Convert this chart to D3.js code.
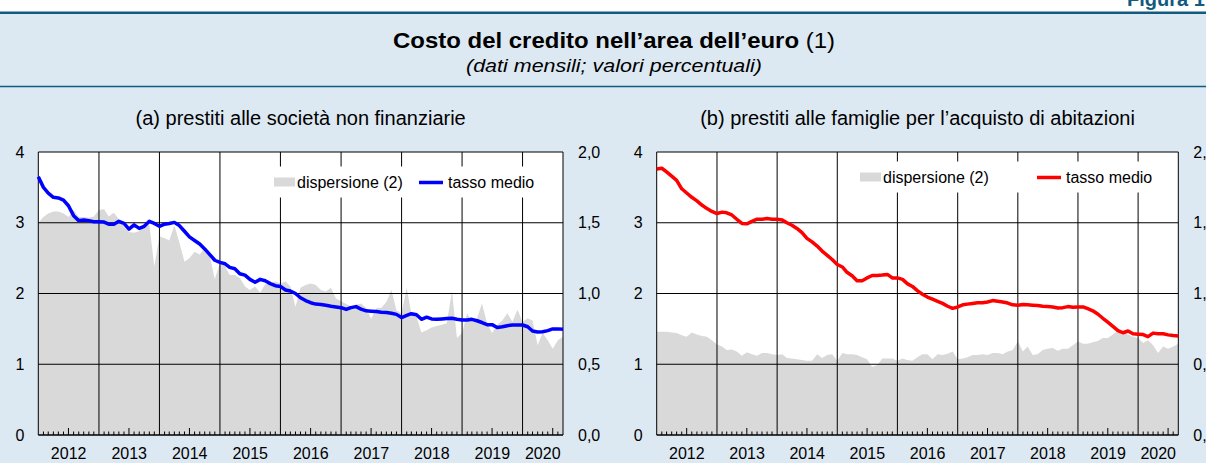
<!DOCTYPE html>
<html>
<head>
<meta charset="utf-8">
<script src="https://cdn.jsdelivr.net/npm/d3@7"></script>
<style>
  body { margin: 0; background: #fff; }
  svg { display: block; font-family: "Liberation Sans", Arial, Helvetica, sans-serif; }
</style>
</head>
<body>
<div class="box"></div>
<script>
// monthly observations, Jan 2012 - Sep 2020
var startMonth = new Date(2012, 0, 1), endMonth = new Date(2020, 8, 1);
var months = d3.timeMonth.range(startMonth, d3.timeMonth.offset(endMonth, 1));
var years = ['2012', '2013', '2014', '2015', '2016', '2017', '2018', '2019', '2020'];
var leftTicks = ['0', '1', '2', '3', '4'];
var rightTicks = ['0,0', '0,5', '1,0', '1,5', '2,0'];

// (a) non-financial corporations: average rate (left axis)
var rateFirms = [3.65,3.50,3.42,3.36,3.35,3.32,3.24,3.10,3.03,3.04,
	3.03,3.015,3.015,3.01,2.98,2.98,3.02,2.99,2.91,2.97,
	2.92,2.95,3.02,2.99,2.95,2.98,2.99,3.005,2.96,2.88,
	2.80,2.75,2.70,2.63,2.55,2.47,2.44,2.42,2.37,2.35,
	2.28,2.26,2.20,2.16,2.20,2.18,2.14,2.11,2.10,2.05,
	2.035,2.00,1.94,1.90,1.87,1.85,1.845,1.835,1.82,1.81,
	1.80,1.775,1.80,1.815,1.78,1.755,1.75,1.745,1.735,1.73,
	1.72,1.705,1.66,1.69,1.715,1.70,1.635,1.665,1.64,1.635,
	1.64,1.645,1.65,1.635,1.625,1.625,1.635,1.615,1.59,1.56,
	1.56,1.52,1.53,1.545,1.555,1.555,1.555,1.53,1.47,1.455,
	1.46,1.475,1.50,1.50,1.495];

// (a) dispersion (right axis)
var dispFirms = [1.50,1.54,1.565,1.58,1.58,1.565,1.54,1.59,1.54,1.54,
	1.535,1.545,1.59,1.595,1.545,1.57,1.525,1.47,1.435,1.43,
	1.44,1.475,1.485,1.19,1.405,1.39,1.375,1.48,1.36,1.225,
	1.25,1.295,1.275,1.32,1.265,1.10,1.215,1.19,1.13,1.13,
	1.11,1.05,1.025,1.05,1.005,1.065,1.07,1.085,1.07,1.085,
	1.05,0.905,1.04,1.06,1.07,1.06,1.025,1.015,1.04,0.965,
	0.945,0.925,0.91,0.92,0.93,0.90,0.82,0.895,0.90,0.94,
	1.025,0.88,0.86,1.04,0.855,0.835,0.725,0.74,0.76,0.77,
	0.78,0.79,1.02,0.685,0.72,0.86,0.80,0.825,0.93,0.79,
	0.72,0.78,0.81,0.86,0.80,0.885,0.80,0.825,0.81,0.635,
	0.72,0.67,0.61,0.67,0.695];

// (b) households, house purchase: average rate (left axis)
var rateHouses = [3.76,3.77,3.72,3.66,3.60,3.48,3.42,3.36,3.31,3.25,
	3.20,3.16,3.13,3.15,3.14,3.11,3.05,2.99,2.985,3.02,
	3.05,3.05,3.06,3.05,3.05,3.04,3.00,2.965,2.92,2.86,
	2.78,2.73,2.67,2.60,2.54,2.48,2.41,2.375,2.30,2.25,
	2.18,2.18,2.22,2.255,2.255,2.26,2.27,2.22,2.22,2.20,
	2.14,2.10,2.04,1.99,1.95,1.92,1.89,1.86,1.82,1.79,
	1.81,1.84,1.85,1.86,1.87,1.87,1.88,1.90,1.89,1.88,
	1.865,1.84,1.835,1.845,1.84,1.835,1.83,1.82,1.815,1.81,
	1.795,1.80,1.815,1.805,1.81,1.81,1.785,1.755,1.71,1.65,
	1.595,1.535,1.475,1.445,1.47,1.43,1.425,1.42,1.39,1.44,
	1.43,1.43,1.415,1.405,1.40];

// (b) dispersion (right axis)
var dispHouses = [0.73,0.73,0.73,0.725,0.72,0.705,0.695,0.725,0.71,0.70,
	0.695,0.67,0.64,0.625,0.60,0.605,0.59,0.56,0.585,0.57,
	0.56,0.58,0.58,0.57,0.565,0.57,0.545,0.54,0.535,0.53,
	0.525,0.525,0.57,0.545,0.565,0.57,0.525,0.58,0.57,0.57,
	0.565,0.55,0.535,0.48,0.495,0.54,0.54,0.54,0.525,0.54,
	0.53,0.525,0.55,0.57,0.57,0.535,0.57,0.565,0.575,0.59,
	0.535,0.54,0.55,0.565,0.565,0.57,0.565,0.58,0.58,0.57,
	0.59,0.60,0.66,0.59,0.625,0.565,0.57,0.60,0.61,0.615,
	0.595,0.61,0.61,0.635,0.66,0.645,0.645,0.655,0.665,0.685,
	0.685,0.71,0.74,0.73,0.71,0.695,0.685,0.65,0.67,0.635,
	0.58,0.625,0.61,0.625,0.645];

var width = 1206, height = 463;
var panelBg = '#dde9f2', darkBlue = '#135a80';

var svg = d3.select('.box').append('svg')
	.attr('width', width)
	.attr('height', height);

// header
svg.append('rect')
	.attr('x', 0).attr('y', 13)
	.attr('width', width).attr('height', height - 13)
	.style('fill', panelBg);

svg.append('line')
	.attr('x1', 0).attr('x2', width)
	.attr('y1', 12.8).attr('y2', 12.8)
	.style('stroke', darkBlue).style('stroke-width', 2.6);

svg.append('line')
	.attr('x1', 0).attr('x2', width)
	.attr('y1', 86.5).attr('y2', 86.5)
	.style('stroke', darkBlue).style('stroke-width', 1.5);

svg.append('text')
	.attr('x', 1127).attr('y', 6)
	.style('font-size', '20px').style('font-weight', 'bold')
	.style('fill', darkBlue)
	.text('Figura 1');

var title = svg.append('text')
	.attr('x', 614).attr('y', 48)
	.attr('text-anchor', 'middle')
	.attr('textLength', 442)
	.attr('lengthAdjust', 'spacingAndGlyphs')
	.style('font-size', '22.5px');
title.append('tspan').style('font-weight', 'bold').text('Costo del credito nell\u2019area dell\u2019euro');
title.append('tspan').text(' (1)');

svg.append('text')
	.attr('x', 614).attr('y', 72)
	.attr('text-anchor', 'middle')
	.attr('textLength', 296)
	.attr('lengthAdjust', 'spacingAndGlyphs')
	.style('font-size', '19px').style('font-style', 'italic')
	.text('(dati mensili; valori percentuali)');

function drawPanel(opts)
{
	var x = d3.scaleTime()
		.domain([startMonth, endMonth])
		.range([opts.left, opts.right]);
	var yL = d3.scaleLinear().domain([0, 4]).range([435, 152]);
	var yR = d3.scaleLinear().domain([0, 2]).range([435, 152]);

	var g = svg.append('g');

	g.append('text')
		.attr('x', (opts.left + opts.right) / 2)
		.attr('y', 125)
		.attr('text-anchor', 'middle')
		.style('font-size', '20px')
		.text(opts.title);

	g.append('rect')
		.attr('x', opts.left).attr('y', yL(4))
		.attr('width', opts.right - opts.left)
		.attr('height', yL(0) - yL(4))
		.style('fill', '#fff');

	var rows = months.map(function(m, i) {
		return {date: m, rate: opts.rate[i], disp: opts.disp[i]};
	});

	g.append('path')
		.datum(rows)
		.attr('d', d3.area()
			.x(function(d) { return x(d.date); })
			.y0(yR(0))
			.y1(function(d) { return yR(d.disp); }))
		.style('fill', '#d9d9d9');

	// grid
	g.selectAll('line.hgrid')
		.data([1, 2, 3, 4])
		.enter()
		.append('line')
			.attr('class', 'hgrid')
			.attr('x1', opts.left).attr('x2', opts.right)
			.attr('y1', function(d) { return yL(d); })
			.attr('y2', function(d) { return yL(d); })
			.style('stroke', '#000').style('stroke-width', 1);

	var yearStarts = years.slice(1).map(function(y) { return new Date(+y, 0, 1); });
	g.selectAll('line.vgrid')
		.data(yearStarts)
		.enter()
		.append('line')
			.attr('class', 'vgrid')
			.attr('x1', function(d) { return x(d); })
			.attr('x2', function(d) { return x(d); })
			.attr('y1', yL(4)).attr('y2', yL(0))
			.style('stroke', '#000').style('stroke-width', 1);

	g.append('line')
		.attr('x1', opts.left).attr('x2', opts.left)
		.attr('y1', yL(4)).attr('y2', yL(0))
		.style('stroke', '#000').style('stroke-width', 1);
	g.append('line')
		.attr('x1', opts.right).attr('x2', opts.right)
		.attr('y1', yL(4)).attr('y2', yL(0))
		.style('stroke', '#000').style('stroke-width', 1);
	g.append('line')
		.attr('x1', opts.left).attr('x2', opts.right)
		.attr('y1', yL(0)).attr('y2', yL(0))
		.style('stroke', '#000').style('stroke-width', 1.3);

	// monthly ticks, taller in July
	var tickMonths = months.filter(function(m) { return m.getMonth() !== 0 && m < endMonth; });
	g.selectAll('line.mtick')
		.data(tickMonths)
		.enter()
		.append('line')
			.attr('class', 'mtick')
			.attr('x1', function(d) { return x(d); })
			.attr('x2', function(d) { return x(d); })
			.attr('y1', yL(0))
			.attr('y2', function(d) { return yL(0) - (d.getMonth() === 6 ? 7 : 3.5); })
			.style('stroke', '#000').style('stroke-width', 1);

	// legend
	var lg = g.append('g');
	lg.append('rect')
		.attr('x', opts.legend.x).attr('y', opts.legend.y - 16)
		.attr('width', opts.legend.w).attr('height', 31)
		.style('fill', '#fff');
	lg.append('rect')
		.attr('x', opts.legend.x + 4).attr('y', opts.legend.y - 5)
		.attr('width', 21).attr('height', 9)
		.style('fill', '#d9d9d9');
	lg.append('text')
		.attr('x', opts.legend.x + 27).attr('y', opts.legend.y + 5.5)
		.style('font-size', '16px')
		.text('dispersione (2)');
	lg.append('line')
		.attr('x1', opts.legend.x + opts.legend.lineX)
		.attr('x2', opts.legend.x + opts.legend.lineX + 24)
		.attr('y1', opts.legend.y).attr('y2', opts.legend.y)
		.style('stroke', opts.color).style('stroke-width', 3.5);
	lg.append('text')
		.attr('x', opts.legend.x + opts.legend.lineX + 29).attr('y', opts.legend.y + 5.5)
		.style('font-size', '16px')
		.text('tasso medio');

	g.append('path')
		.datum(rows)
		.attr('d', d3.line()
			.x(function(d) { return x(d.date); })
			.y(function(d) { return yL(d.rate); }))
		.style('fill', 'none')
		.style('stroke', opts.color)
		.style('stroke-width', 3.5)
		.style('stroke-linejoin', 'round');

	// axis labels
	g.selectAll('text.yl')
		.data(leftTicks)
		.enter()
		.append('text')
			.attr('class', 'yl')
			.attr('x', opts.left - 14)
			.attr('y', function(d) { return yL(+d) + 5.5; })
			.attr('text-anchor', 'end')
			.style('font-size', '16px')
			.text(function(d) { return d; });

	g.selectAll('text.yr')
		.data(rightTicks)
		.enter()
		.append('text')
			.attr('class', 'yr')
			.attr('x', opts.right + 15)
			.attr('y', function(d) { return yR(+d.replace(',', '.')) + 5.5; })
			.style('font-size', '16px')
			.text(function(d) { return d; });

	g.selectAll('text.year')
		.data(years)
		.enter()
		.append('text')
			.attr('class', 'year')
			.attr('x', function(d) {
				var a = new Date(+d, 0, 1), b = d3.min([new Date(+d + 1, 0, 1), endMonth]);
				return (x(a) + x(b)) / 2;
			})
			.attr('y', 459)
			.attr('text-anchor', 'middle')
			.style('font-size', '16px')
			.text(function(d) { return d; });
}

drawPanel({
	left: 38.3, right: 563,
	title: '(a) prestiti alle società non finanziarie',
	rate: rateFirms, disp: dispFirms, color: '#0000ff',
	legend: {x: 270, y: 182.5, w: 275, lineX: 149}
});

drawPanel({
	left: 656.7, right: 1178.3,
	title: '(b) prestiti alle famiglie per l\u2019acquisto di abitazioni',
	rate: rateHouses, disp: dispHouses, color: '#ff0000',
	legend: {x: 856, y: 177.5, w: 300, lineX: 181}
});
</script>
</body>
</html>
